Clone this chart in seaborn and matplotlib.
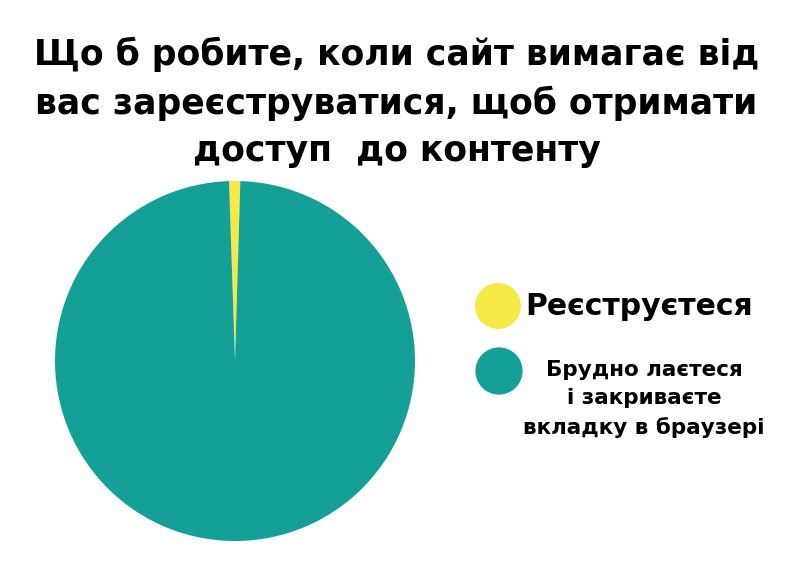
import matplotlib
matplotlib.use("Agg")
import matplotlib.pyplot as plt
import seaborn as sns

# Дані
title_lines = [
    "Що б робите, коли сайт вимагає від",
    "вас зареєструватися, щоб отримати",
    "доступ  до контенту",
]
labels = ["Реєструєтеся", "Брудно лаєтеся\nі закриваєте\nвкладку в браузері"]
shares = [1.0, 99.0]
colors = ["#f4e946", "#14a097"]

sns.set_theme(style="white")
plt.rcParams["font.family"] = ["DejaVu Sans"]

W, H = 793, 569
fig = plt.figure(figsize=(W / 100, H / 100), dpi=100)
fig.patch.set_facecolor("white")

# Кругова діаграма
ax = fig.add_axes([55 / W, (H - 541) / H, 360 / W, 360 / H])
ax.pie(shares, colors=colors, startangle=91.9, counterclock=False,
       radius=1, wedgeprops=dict(linewidth=0))
ax.set_xlim(-1, 1)
ax.set_ylim(-1, 1)
ax.set_aspect("equal")
ax.axis("off")

# Заголовок
fig.text(0.5, 1 - 102.5 / H, "\n".join(title_lines), ha="center", va="center",
         fontsize=24.9, fontweight="bold", linespacing=1.48, color="black")

# Легенда вручну
lax = fig.add_axes([0, 0, 1, 1])
lax.set_xlim(0, W)
lax.set_ylim(H, 0)
lax.axis("off")
lax.scatter([498, 499], [306, 371], s=[33 ** 2, 34 ** 2], c=colors,
            edgecolors="none")
lax.text(525, 306, labels[0], ha="left", va="center", fontsize=21.5,
         fontweight="bold", color="black")
lax.text(644, 399, labels[1], ha="center", va="center", fontsize=15.5,
         fontweight="bold", color="black", linespacing=1.52,
         multialignment="center")

fig.savefig("out.png", dpi=100, facecolor="white")
